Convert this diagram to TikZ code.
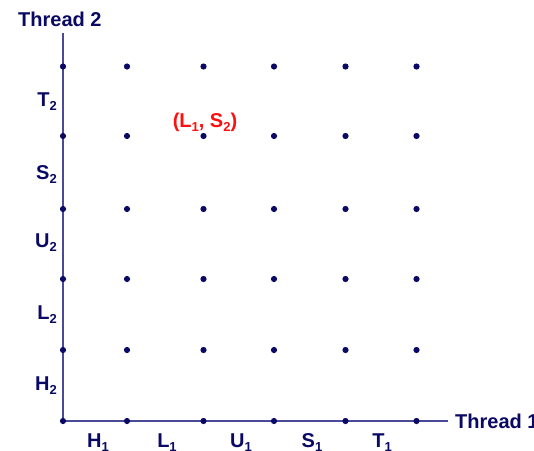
\documentclass[tikz,border=0pt]{standalone}
\usepackage{fontspec}
\setmainfont{Liberation Sans}
\definecolor{navy}{HTML}{0A0A66}
\definecolor{axiscol}{HTML}{4A4A96}
\definecolor{hired}{HTML}{FF1010}
\newcommand{\sbs}[1]{\raisebox{-0.22em}{\fontsize{13}{13}\selectfont #1}}
\begin{document}
\begin{tikzpicture}[x=1pt,y=-1pt,
  dot/.style={circle,fill=navy,draw=none,inner sep=0pt,minimum size=6.2pt},
  axis/.style={draw=axiscol,line width=1.9pt},
  lbl/.style={font=\fontsize{20}{24}\selectfont\bfseries,text=navy,inner sep=0pt},
  redlbl/.style={font=\fontsize{20}{24}\selectfont\bfseries,text=hired,inner sep=0pt}]
\clip (0,0) rectangle (534,450);
\fill[white] (0,0) rectangle (534,450);
% axes
\coordinate (o) at (63,421);
\coordinate (ytop) at (63,33);
\coordinate (xend) at (448,421);
\draw[axis] (ytop) -- (o) -- (xend);
% dots
\foreach \cx [count=\i] in {63,127,203.5,274,345.5,416.5}{
  \foreach \cy [count=\j] in {66.5,136,209,279,350,421}{
    \node[dot] (d\i\j) at (\cx,\cy) {};
  }
}
% axis titles
\node[lbl,anchor=base west] (t2) at (18,26) {Thread 2};
\node[lbl,anchor=base west] (t1) at (455,428) {Thread 1};
% vertical labels
\node[lbl,anchor=base east] (lT2) at (57,106) {T\sbs{2}};
\node[lbl,anchor=base east] (lS2) at (57,179) {S\sbs{2}};
\node[lbl,anchor=base east] (lU2) at (57,247) {U\sbs{2}};
\node[lbl,anchor=base east] (lL2) at (57,319) {L\sbs{2}};
\node[lbl,anchor=base east] (lH2) at (57,390) {H\sbs{2}};
% horizontal labels
\node[lbl,anchor=base] (lH1) at (98,447) {H\sbs{1}};
\node[lbl,anchor=base] (lL1) at (167,447) {L\sbs{1}};
\node[lbl,anchor=base] (lU1) at (241,447) {U\sbs{1}};
\node[lbl,anchor=base] (lS1) at (312,447) {S\sbs{1}};
\node[lbl,anchor=base] (lT1) at (382,447) {T\sbs{1}};
% highlighted point
\node[redlbl,anchor=base] (pt) at (205,127) {(L\sbs{1}, S\sbs{2})};
\end{tikzpicture}
\end{document}
